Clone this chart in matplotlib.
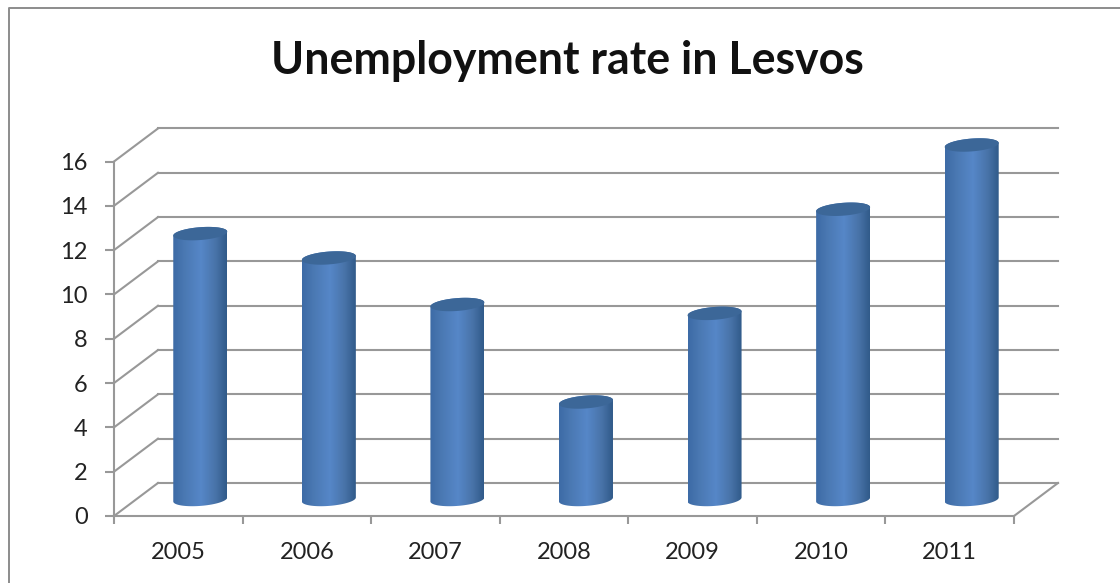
import numpy as np
import matplotlib
matplotlib.use("Agg")
import matplotlib.pyplot as plt
from matplotlib.colors import LinearSegmentedColormap
from matplotlib.lines import Line2D
from matplotlib.patches import PathPatch
from matplotlib.path import Path

years = ["2005", "2006", "2007", "2008", "2009", "2010", "2011"]
rates = [12, 10.9, 8.8, 4.4, 8.4, 13.1, 16]
y_ticks = [0, 2, 4, 6, 8, 10, 12, 14, 16]

W, H = 1120, 583
GREY = "#989898"
TEXT = "#222222"

# depth of the fake 3D floor, in data units
DEPTH_X = 0.342
DEPTH_Y = 1.49

# cylinder shape, in data units
BAR_A = 0.21
BAR_B = 0.29
BAR_TILT = 0.09

plt.rcParams["font.family"] = ["Lato", "DejaVu Sans"]

fig = plt.figure(figsize=(W / 100, H / 100), dpi=100, facecolor="white")
ax = fig.add_axes([114 / W, (H - 516) / H, 900 / W, 354.5 / H])
ax.set_facecolor("none")


# Ellipse points for a cylinder end, slightly tilted
def ellipse(cx, cy, t):
    return np.column_stack([cx + BAR_A * np.cos(t),
                            cy + BAR_B * np.sin(t) + BAR_TILT * np.cos(t)])


# Back wall lines and the diagonals down the side wall
for v in y_ticks:
    ax.plot([0, DEPTH_X], [v, v + DEPTH_Y], color=GREY, lw=1.5, clip_on=False, zorder=1)
    ax.plot([DEPTH_X, len(years) + DEPTH_X], [v + DEPTH_Y, v + DEPTH_Y],
            color=GREY, lw=1.5, clip_on=False, zorder=1)
ax.plot([len(years), len(years) + DEPTH_X], [0, DEPTH_Y], color=GREY, lw=1.5,
        clip_on=False, zorder=1)

# Cylinders
shade = LinearSegmentedColormap.from_list(
    "cyl", [(0, "#3d6ba6"), (0.2, "#4a78b2"), (0.52, "#5687c8"),
            (0.8, "#4873a8"), (1, "#315b8a")])
for i, rate in enumerate(rates):
    cx = i + 0.5 + DEPTH_X / 2
    base = DEPTH_Y / 2
    top = base + rate
    lower = ellipse(cx, base, np.linspace(np.pi, 2 * np.pi, 40))
    upper = ellipse(cx, top, np.linspace(0, np.pi, 40))
    outline = Path(np.vstack([lower, upper, lower[:1]]), closed=True)
    im = ax.imshow(np.linspace(0, 1, 64).reshape(1, -1), cmap=shade, aspect="auto",
                   extent=[cx - BAR_A, cx + BAR_A, base - 1, top + 1],
                   interpolation="bilinear", zorder=3)
    im.set_clip_path(PathPatch(outline, transform=ax.transData))
    im.set_clip_box(fig.bbox)
    cap = ellipse(cx, top, np.linspace(0, 2 * np.pi, 80))
    ax.add_patch(PathPatch(Path(cap, closed=True), facecolor="#3c6798",
                           edgecolor="none", clip_on=False, zorder=4))

ax.set_xlim(0, len(years))
ax.set_ylim(0, 16)

# Axes, ticks and labels
for side in ["top", "right"]:
    ax.spines[side].set_visible(False)
for side in ["left", "bottom"]:
    ax.spines[side].set_color(GREY)
    ax.spines[side].set_linewidth(1.5)
ax.set_yticks(y_ticks)
ax.set_xticks(range(len(years) + 1), labels=[])
ax.set_xticks(np.arange(len(years)) + 0.5, labels=years, minor=True)
ax.tick_params(axis="y", length=6.5, width=1.5, color=GREY, labelsize=17,
               labelcolor=TEXT, pad=12.5)
ax.tick_params(axis="x", which="major", length=6, width=1.5, color=GREY)
ax.tick_params(axis="x", which="minor", length=0, labelsize=17, labelcolor=TEXT, pad=18.5)

fig.text(567 / W, 1 - 61 / H, "Unemployment rate in Lesvos", ha="center", va="center",
         fontsize=32.1, fontweight="bold", color="#111111")

# Chart area frame, only left and top show in the crop
fig.add_artist(Line2D([9 / W, 9 / W, 1], [0, 1 - 8 / H, 1 - 8 / H], color="#8c8c8c", lw=1.4))

fig.savefig("out.png", dpi=100)
